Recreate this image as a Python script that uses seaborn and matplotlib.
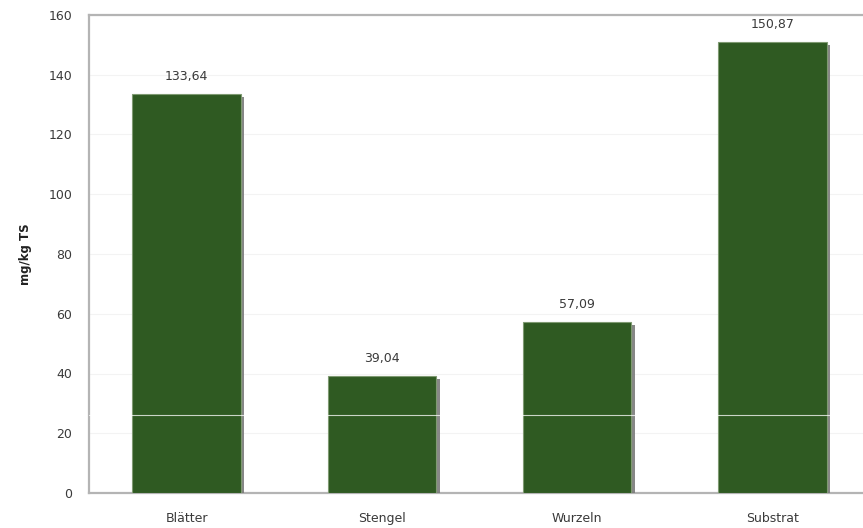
import matplotlib
matplotlib.use("Agg")
import matplotlib.pyplot as plt
import matplotlib.patheffects as pe
import seaborn as sns
import pandas as pd

# Gehalte je Pflanzenteil / Substrat
categories = ["Blätter", "Stengel", "Wurzeln", "Substrat"]
values = [133.64, 39.04, 57.09, 150.87]
y_ticks = [0, 20, 40, 60, 80, 100, 120, 140, 160]

df = pd.DataFrame({"teil": categories, "wert": values})

sns.set_theme(style="white")
plt.rcParams["font.family"] = ["DejaVu Sans"]

fig = plt.figure(figsize=(8.63, 5.28), dpi=100)
ax = fig.add_axes([89 / 863, 35 / 528, 781 / 863, 478 / 528])

bar_color = "#2f5a22"
sns.barplot(data=df, x="teil", y="wert", color=bar_color, width=0.555,
            saturation=1, ax=ax, zorder=3)

for patch in ax.patches:
    patch.set_edgecolor("#7f9a72")
    patch.set_linewidth(0.8)
    patch.set_path_effects([
        pe.SimplePatchShadow(offset=(2.6, -2.2), shadow_rgbFace="#7a7a7a", alpha=0.9),
        pe.Normal(),
    ])

labels = [f"{v:.2f}".replace(".", ",") for v in values]
ax.bar_label(ax.containers[0], labels=labels, padding=8, fontsize=9, color="#3a3a3a")

ax.set_xlim(-0.5, 3.5)
ax.set_ylim(0, 160)
ax.set_yticks(y_ticks)
ax.set_yticklabels([str(t) for t in y_ticks])
ax.tick_params(axis="both", length=0, labelsize=9, colors="#3a3a3a")
ax.tick_params(axis="y", pad=12)
ax.tick_params(axis="x", pad=14)

ax.set_xlabel("")
ax.set_ylabel("mg/kg TS", fontsize=8.5, fontweight="bold", color="#222222")
ax.yaxis.set_label_coords(-57 / 781, 0.5)

ax.yaxis.grid(True, color="#f3f3f3", linewidth=0.8, zorder=0)
ax.set_axisbelow(True)

for side in ["left", "bottom", "top"]:
    ax.spines[side].set_visible(True)
    ax.spines[side].set_color("#b4b4b4")
    ax.spines[side].set_linewidth(1.6)
ax.spines["right"].set_visible(False)

# helle Querlinie durch das Diagramm
ax.axhline(26.1, color="white", linewidth=0.8, alpha=0.75, zorder=5)

fig.savefig("out.png", dpi=100)
